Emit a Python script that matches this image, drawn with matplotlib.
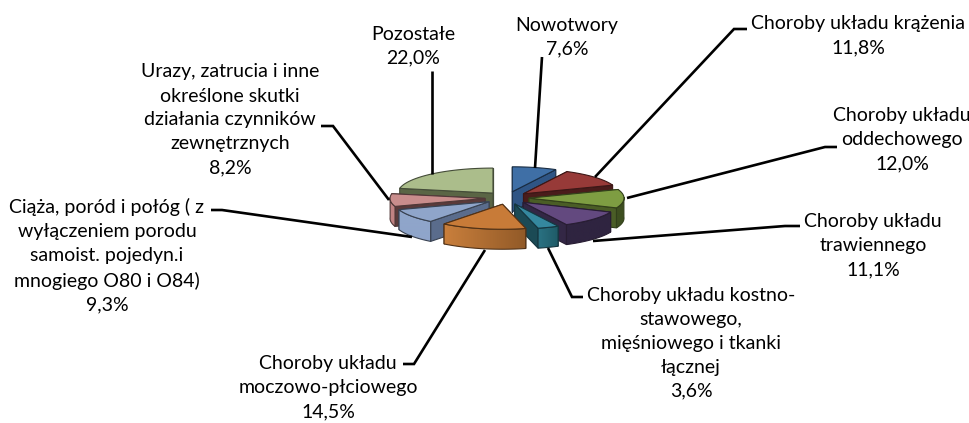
import numpy as np
import matplotlib
matplotlib.use("Agg")
import matplotlib.pyplot as plt
from matplotlib.patches import Polygon
from matplotlib.colors import to_rgb

plt.rcParams['font.family'] = ['Lato', 'DejaVu Sans']

labels = ["Nowotwory\n7,6%", "Choroby układu krążenia\n11,8%", "Choroby układu\noddechowego\n12,0%",
          "Choroby układu\ntrawiennego\n11,1%", "Choroby układu kostno-\nstawowego,\nmięśniowego i tkanki\nłącznej\n3,6%",
          "Choroby układu\nmoczowo-płciowego\n14,5%",
          "Ciąża, poród i połóg ( z\nwyłączeniem porodu\nsamoist. pojedyn.i\nmnogiego O80 i O84)\n9,3%",
          "Urazy, zatrucia i inne\nokreślone skutki\ndziałania czynników\nzewnętrznych\n8,2%", "Pozostałe\n22,0%"]
values = [7.6, 11.8, 12.0, 11.1, 3.6, 14.5, 9.3, 8.2, 22.0]
top_colors = ["#3f6fa6", "#973a38", "#7e9d42", "#63497f", "#35889f", "#c87b38", "#8fa5ca", "#c98d8c", "#abbd8b"]
rim_left = ["#2f5585", "#6d2725", "#3e4f20", "#2f2440", "#2a7283", "#c97f3c", "#8fa5ca", "#c08282", "#5a6545"]
rim_right = ["#2f5585", "#6d2725", "#3e4f20", "#2f2440", "#1f5a66", "#925a28", "#8fa5ca", "#c08282", "#5a6545"]
wall_colors = ["#2f5585", "#4a1c1b", "#4a5d26", "#332745", "#1b4a55", "#8a5226", "#5a6c8c", "#5a3a3a", "#5a6545"]
label_xy = [(567, 37), (858, 36), (902, 140), (873, 246), (691, 343), (328, 388), (107, 256), (230, 120), (413, 46)]
leaders = [[(535, 168), (542, 57)],
           [(595, 177), (734, 29), (747, 29)],
           [(627, 198), (825, 147), (837, 147)],
           [(593, 241), (785, 226), (800, 226)],
           [(548, 248), (572, 297), (583, 297)],
           [(485, 250), (414, 364), (403, 364)],
           [(412, 237), (222, 210), (211, 210)],
           [(389, 200), (333, 126), (321, 126)],
           [(432, 174), (432, 71)]]

cx, cy, rx, ry, depth, explode, ky = 507, 198, 95, 25, 20, 22, 0.29

fig = plt.figure(figsize=(9.70, 4.23), dpi=100)
ax = fig.add_axes([0, 0, 1, 1])
ax.axis('off')

edges = np.cumsum([0] + values) / sum(values) * 360
order = sorted(range(len(values)), key=lambda i: -np.cos(np.radians((edges[i] + edges[i + 1]) / 2)))

for n, i in enumerate(order):
    z = 2 + n * 0.1
    a0, a1 = edges[i], edges[i + 1]
    mid = np.radians((a0 + a1) / 2)
    ax0 = cx + explode * np.sin(mid)
    ay0 = cy - explode * ky * np.cos(mid)
    t = np.radians(np.linspace(a0, a1, 60))
    rim = np.column_stack([ax0 + rx * np.sin(t), ay0 - ry * np.cos(t)])
    apex = np.array([ax0, ay0])
    d = np.array([0, depth])
    col = top_colors[i]
    ec = tuple(v * 0.4 for v in to_rgb(col))
    walls = [(p[1], [apex, p, p + d, apex + d]) for p in (rim[0], rim[-1])]
    for _, w in sorted(walls, key=lambda w: w[0]):
        ax.add_patch(Polygon(w, closed=True, fc=wall_colors[i], ec=ec, lw=0.8, zorder=z))
    seg = rim[np.cos(t) < 0.05]
    if len(seg) > 1:
        outline = Polygon(np.vstack([seg, (seg + d)[::-1]]), closed=True, fill=False, ec=ec, lw=0.8,
                          zorder=z + 0.02)
        ax.add_patch(outline)
        c0, c1 = np.array(to_rgb(rim_left[i])), np.array(to_rgb(rim_right[i]))
        grad = np.linspace(0, 1, 64)[None, :, None] * (c1 - c0)[None, None, :] + c0[None, None, :]
        im = ax.imshow(grad, extent=(seg[:, 0].min(), seg[:, 0].max(), (seg + d)[:, 1].max(), seg[:, 1].min()),
                       aspect='auto', interpolation='bilinear', zorder=z + 0.01)
        im.set_clip_path(outline)
    ax.add_patch(Polygon(np.vstack([apex, rim]), closed=True, fc=col, ec=ec, lw=0.8, zorder=z + 0.03))

for pts, label, xy in zip(leaders, labels, label_xy):
    xs, ys = zip(*pts)
    ax.plot(xs, ys, color='black', lw=1.9, solid_capstyle='butt', solid_joinstyle='miter', zorder=5)
    ax.text(xy[0], xy[1], label, ha='center', va='center', fontsize=14, color='#000000',
            linespacing=1.5, zorder=6)

ax.set_xlim(0, 970)
ax.set_ylim(423, 0)
fig.savefig("out.png", dpi=100)
